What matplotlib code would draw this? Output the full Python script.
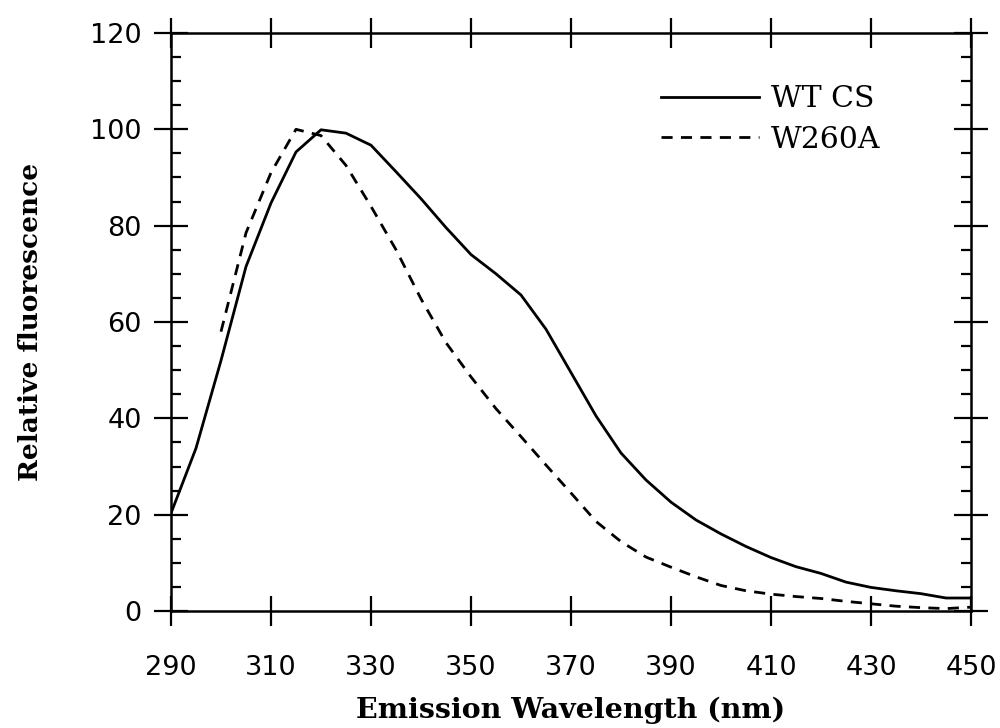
import matplotlib
matplotlib.use("Agg")
import matplotlib.pyplot as plt
from matplotlib.ticker import MultipleLocator

# Emission wavelengths (nm) and relative fluorescence for each protein
wt_wavelength = [290, 295, 300, 305, 310, 315, 320, 325, 330, 335, 340, 345, 350,
                 355, 360, 365, 370, 375, 380, 385, 390, 395, 400, 405, 410, 415,
                 420, 425, 430, 435, 440, 445, 450]
wt_fluor = [20.3, 33.8, 52.0, 71.5, 84.7, 95.3, 99.9, 99.2, 96.7, 91.2, 85.6, 79.6,
            74.0, 70.0, 65.6, 58.5, 49.5, 40.5, 32.8, 27.2, 22.6, 18.9, 16.0, 13.4,
            11.1, 9.2, 7.8, 6.0, 4.9, 4.2, 3.6, 2.7, 2.7]

mut_wavelength = [300, 305, 310, 315, 320, 325, 330, 335, 340, 345, 350, 355, 360,
                  365, 370, 375, 380, 385, 390, 395, 400, 405, 410, 415, 420, 425,
                  430, 435, 440, 445, 450]
mut_fluor = [58.0, 78.5, 91.0, 100.0, 98.7, 92.5, 84.0, 75.0, 64.8, 55.7, 48.6, 42.0,
             36.2, 30.3, 24.5, 18.6, 14.4, 11.2, 9.1, 7.1, 5.3, 4.2, 3.5, 3.0,
             2.6, 2.0, 1.5, 1.0, 0.7, 0.5, 0.8]

x_ticks = [290, 310, 330, 350, 370, 390, 410, 430, 450]
y_ticks = [0, 20, 40, 60, 80, 100, 120]

fig = plt.figure(figsize=(10, 7.28), dpi=100)
ax = fig.add_axes([0.171, 0.1607, 0.800, 0.794])

ax.plot(wt_wavelength, wt_fluor, color="black", lw=2.0, label="WT CS",
        solid_joinstyle="round")
ax.plot(mut_wavelength, mut_fluor, color="black", lw=2.0, dashes=(4.0, 3.0),
        label="W260A")

ax.set_xlim(290, 450)
ax.set_ylim(0, 120)
ax.set_xticks(x_ticks)
ax.set_yticks(y_ticks)
ax.yaxis.set_minor_locator(MultipleLocator(5))

for side in ax.spines.values():
    side.set_linewidth(1.8)

tick_font = dict(family="DejaVu Sans", size=19.5)
ax.set_xticklabels([str(v) for v in x_ticks], **tick_font)
ax.set_yticklabels([str(v) for v in y_ticks], **tick_font)

ax.tick_params(axis="x", which="major", direction="inout", length=22, width=1.6,
               top=True, bottom=True, pad=21)
ax.tick_params(axis="y", which="major", direction="inout", length=24, width=1.6,
               left=True, right=True, pad=9)
ax.tick_params(axis="y", which="minor", direction="in", length=7, width=1.6,
               left=True, right=True)

ax.set_xlabel("Emission Wavelength (nm)", labelpad=11, family="DejaVu Serif",
              weight="bold", size=20.5)
ax.set_ylabel("Relative fluorescence", labelpad=34, family="DejaVu Serif",
              weight="bold", size=19)

leg = ax.legend(loc="upper left", bbox_to_anchor=(0.597, 0.93), frameon=False,
                prop=dict(family="DejaVu Serif", size=21.5), handlelength=3.3,
                handletextpad=0.4, labelspacing=0.42, borderaxespad=0)

fig.savefig("out.png", dpi=100)
